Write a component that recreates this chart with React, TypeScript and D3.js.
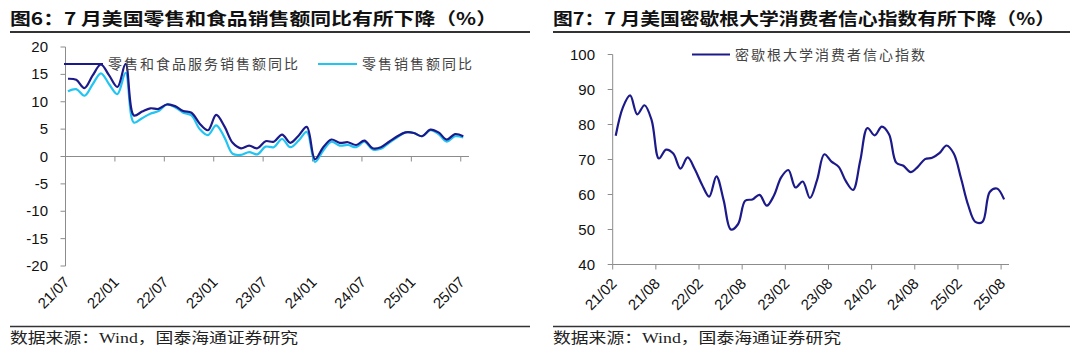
import React from 'react';
import * as d3 from 'd3';

// 图6 data: monthly, 21/07 .. 25/07
const retailMonths = [
  '21/07', '21/08', '21/09', '21/10', '21/11', '21/12',
  '22/01', '22/02', '22/03', '22/04', '22/05', '22/06', '22/07', '22/08', '22/09', '22/10', '22/11', '22/12',
  '23/01', '23/02', '23/03', '23/04', '23/05', '23/06', '23/07', '23/08', '23/09', '23/10', '23/11', '23/12',
  '24/01', '24/02', '24/03', '24/04', '24/05', '24/06', '24/07', '24/08', '24/09', '24/10', '24/11', '24/12',
  '25/01', '25/02', '25/03', '25/04', '25/05', '25/06', '25/07',
];
const retailFoodYoY = [
  14.2, 14.0, 12.5, 14.8, 16.8, 14.8, 12.7, 16.9, 7.5, 8.2, 8.8, 8.7, 9.5, 9.2, 8.3, 8.0, 6.0, 4.8,
  7.6, 5.5, 2.5, 1.5, 2.0, 1.5, 2.8, 2.7, 4.0, 2.5, 3.8, 5.4, -0.5, 1.7, 3.1, 2.5, 2.6, 2.1,
  2.9, 1.5, 1.7, 2.7, 3.7, 4.4, 4.3, 3.7, 4.9, 4.4, 3.1, 4.1, 3.7,
];
const retailYoY = [
  11.9, 12.3, 11.1, 13.2, 15.2, 13.2, 11.4, 15.3, 6.2, 7.0, 7.8, 8.3, 9.5, 9.0, 8.0, 7.5, 5.0, 3.9,
  5.7, 3.5, 0.5, 0.3, 0.8, 0.4, 1.8, 1.7, 3.2, 1.7, 2.9, 4.5, -1.0, 1.1, 2.7, 2.0, 2.1, 1.7,
  2.7, 1.3, 1.4, 2.5, 3.5, 4.4, 4.3, 3.7, 4.8, 4.1, 2.7, 3.7, 3.5,
];
const retailTicks = ['21/07', '22/01', '22/07', '23/01', '23/07', '24/01', '24/07', '25/01', '25/07'];
const retailYTicks = [20, 15, 10, 5, 0, -5, -10, -15, -20];

// 图7 data: monthly, 21/02 .. 25/08
const umichMonths = [
  '21/02', '21/03', '21/04', '21/05', '21/06', '21/07', '21/08', '21/09', '21/10', '21/11', '21/12',
  '22/01', '22/02', '22/03', '22/04', '22/05', '22/06', '22/07', '22/08', '22/09', '22/10', '22/11', '22/12',
  '23/01', '23/02', '23/03', '23/04', '23/05', '23/06', '23/07', '23/08', '23/09', '23/10', '23/11', '23/12',
  '24/01', '24/02', '24/03', '24/04', '24/05', '24/06', '24/07', '24/08', '24/09', '24/10', '24/11', '24/12',
  '25/01', '25/02', '25/03', '25/04', '25/05', '25/06', '25/07', '25/08',
];
const umichSentiment = [
  76.8, 84.9, 88.3, 82.9, 85.5, 81.2, 70.3, 72.8, 71.7, 67.4, 70.6,
  67.2, 62.8, 59.4, 65.2, 58.4, 50.0, 51.5, 58.2, 58.6, 59.9, 56.8, 59.7,
  64.9, 67.0, 62.0, 63.7, 59.0, 64.2, 71.5, 69.4, 67.9, 63.8, 61.3, 69.7,
  79.0, 76.9, 79.4, 77.2, 69.1, 68.2, 66.4, 67.9, 70.1, 70.5, 71.8, 74.0,
  71.7, 64.7, 57.0, 52.2, 52.2, 60.7, 61.7, 58.6,
];
const umichTicks = ['21/02', '21/08', '22/02', '22/08', '23/02', '23/08', '24/02', '24/08', '25/02', '25/08'];
const umichYTicks = [100, 90, 80, 70, 60, 50, 40];

const DARK = '#1c1a8a';
const CYAN = '#22c4f2';
const AXIS = '#8c8c8c';
const NUM_FONT = '"Liberation Sans", Arial, sans-serif';
const CJK_FONT = '"Noto Sans CJK SC", sans-serif';
const NOTE_FONT = '"Liberation Serif", "Noto Sans CJK SC", serif';

const ChartFrame = ({ x0, x1, title, titleEnd }) => (
  <g>
    <text x={x0} y={25} fontFamily={CJK_FONT} fontWeight="bold" fontSize={17}
      fill="#111" textLength={titleEnd - x0} lengthAdjust="spacingAndGlyphs">{title}</text>
    <line x1={x0} x2={x1} y1={32} y2={32} stroke="#333" strokeWidth={2} />
    <line x1={x0} x2={x1} y1={326.5} y2={326.5} stroke="#333" strokeWidth={1.5} />
    <text x={x0} y={343} fontFamily={NOTE_FONT} fontSize={14.5} fill="#222"
      textLength={288} lengthAdjust="spacingAndGlyphs">数据来源：Wind，国泰海通证券研究</text>
  </g>
);

const RetailChart = () => {
  const x = d3.scaleLinear().domain([0, 49]).range([65.5, 469]);
  const y = d3.scaleLinear().domain([-20, 20]).range([266, 47]);
  const px = (i) => x(i + 0.3);
  const line = d3.line().x((d, i) => px(i)).y(d => y(d)).curve(d3.curveCatmullRom.alpha(0.5));
  const zeroY = y(0);

  return (
    <g>
      {/* y axis */}
      <line x1={x(0)} x2={x(0)} y1={y(20)} y2={y(-20)} stroke={AXIS} />
      {retailYTicks.map(t => (
        <g key={t}>
          <line x1={x(0) - 5} x2={x(0)} y1={y(t)} y2={y(t)} stroke={AXIS} />
          <text x={48} y={y(t) + 5} textAnchor="end" fontFamily={NUM_FONT} fontSize={15} fill="#111">{t}</text>
        </g>
      ))}
      {/* x axis on zero line, labels at the bottom */}
      <line x1={x(0)} x2={x(49)} y1={zeroY} y2={zeroY} stroke={AXIS} />
      {retailTicks.map(t => {
        const i = retailMonths.indexOf(t);
        return (
          <g key={t}>
            <line x1={x(i)} x2={x(i)} y1={zeroY} y2={zeroY + 5} stroke={AXIS} />
            <text transform={`translate(${x(i) + 5},${283}) rotate(-45)`} textAnchor="end"
              fontFamily={NUM_FONT} fontSize={15} fill="#111">{t}</text>
          </g>
        );
      })}
      <path d={line(retailYoY)} fill="none" stroke={CYAN} strokeWidth={2.2} />
      <path d={line(retailFoodYoY)} fill="none" stroke={DARK} strokeWidth={2.2} />
      {/* legend */}
      <line x1={64} x2={103} y1={64} y2={64} stroke={DARK} strokeWidth={2.2} />
      <text x={108} y={69} fontFamily={CJK_FONT} fontSize={14} fill="#444"
        textLength={190} lengthAdjust="spacing">零售和食品服务销售额同比</text>
      <line x1={318} x2={357} y1={64} y2={64} stroke={CYAN} strokeWidth={2.2} />
      <text x={362} y={69} fontFamily={CJK_FONT} fontSize={14} fill="#444"
        textLength={110} lengthAdjust="spacing">零售销售额同比</text>
    </g>
  );
};

const UmichChart = () => {
  const x = d3.scaleLinear().domain([0, 55.1]).range([612.7, 1009]);
  const y = d3.scaleLinear().domain([40, 100]).range([264.5, 54.5]);
  const line = d3.line().x((d, i) => x(i + 0.42)).y(d => y(d)).curve(d3.curveCatmullRom.alpha(0.5));

  return (
    <g>
      <line x1={x(0)} x2={x(0)} y1={y(100)} y2={y(40)} stroke={AXIS} />
      {umichYTicks.map(t => (
        <g key={t}>
          <line x1={x(0) - 5} x2={x(0)} y1={y(t)} y2={y(t)} stroke={AXIS} />
          <text x={595} y={y(t) + 5} textAnchor="end" fontFamily={NUM_FONT} fontSize={15} fill="#111">{t}</text>
        </g>
      ))}
      <line x1={x(0)} x2={x(55.1)} y1={y(40)} y2={y(40)} stroke={AXIS} />
      {umichTicks.map(t => {
        const i = umichMonths.indexOf(t);
        return (
          <g key={t}>
            <line x1={x(i)} x2={x(i)} y1={y(40)} y2={y(40) + 5} stroke={AXIS} />
            <text transform={`translate(${x(i) + 5},${y(40) + 20}) rotate(-45)`} textAnchor="end"
              fontFamily={NUM_FONT} fontSize={15} fill="#111">{t}</text>
          </g>
        );
      })}
      <path d={line(umichSentiment)} fill="none" stroke={DARK} strokeWidth={2.2} />
      <line x1={692} x2={730} y1={54.5} y2={54.5} stroke={DARK} strokeWidth={2.2} />
      <text x={735} y={60} fontFamily={CJK_FONT} fontSize={14} fill="#444"
        textLength={190} lengthAdjust="spacing">密歇根大学消费者信心指数</text>
    </g>
  );
};

export default function App() {
  return (
    <div style={{ position: 'absolute', left: 0, top: 0 }}>
      <svg width={1080} height={351} style={{ display: 'block', background: '#fff' }}>
        <ChartFrame x0={10} x1={530} titleEnd={497} title="图6：7 月美国零售和食品销售额同比有所下降（%）" />
        <ChartFrame x0={553} x1={1070} titleEnd={1055} title="图7：7 月美国密歇根大学消费者信心指数有所下降（%）" />
        <RetailChart />
        <UmichChart />
      </svg>
    </div>
  );
}
